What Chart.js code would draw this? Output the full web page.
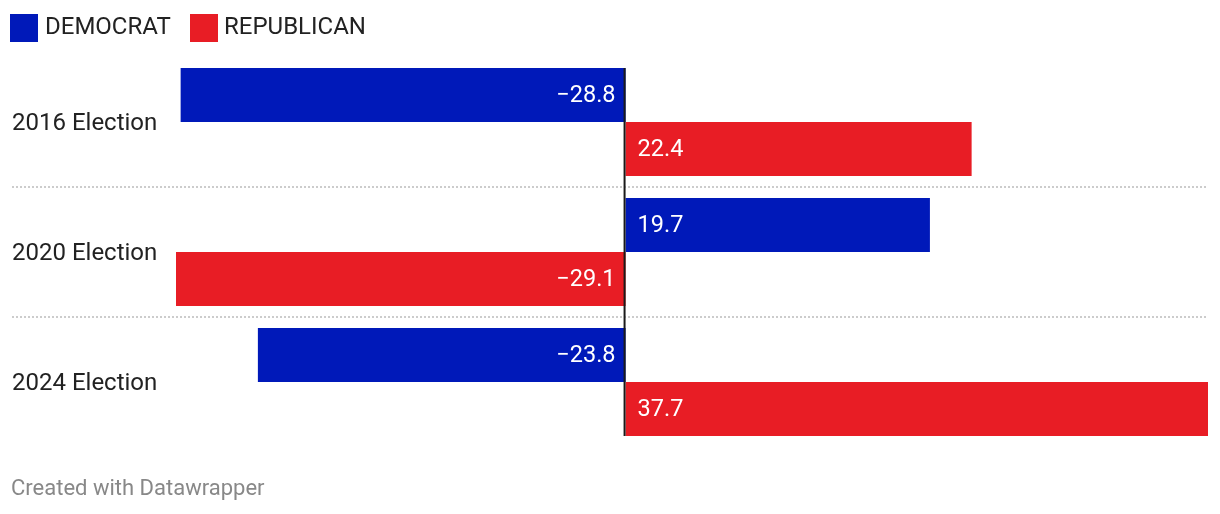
<!DOCTYPE html>
<html>
<head>
<meta charset="utf-8">
<script src="https://cdn.jsdelivr.net/npm/chart.js@4/dist/chart.umd.min.js"></script>
<style>
  html, body { margin: 0; padding: 0; background: #fff; }
  #wrap { width: 1220px; height: 514px; position: relative; }
</style>
</head>
<body>
<div id="wrap"><canvas id="mycanvas"></canvas></div>
<script>
// data
const elections = ["2016 Election", "2020 Election", "2024 Election"];
const democrat = [-28.8, 19.7, -23.8];
const republican = [22.4, -29.1, 37.7];
const seriesNames = ["DEMOCRAT", "REPUBLICAN"];
const colors = ["#0019b9", "#e81d25"];

function fmt(v) {
    var s = Math.abs(v).toFixed(1);
    return v < 0 ? "\u2212" + s : s;
}

// legend, labels, separators, zero line, credit
const extras = {
    id: "extras",
    afterDatasetsDraw(chart) {
        const ctx = chart.ctx;
        const x = chart.scales.x, y = chart.scales.y;
        ctx.save();

        // dotted separators between groups
        ctx.strokeStyle = "#cccccc";
        ctx.lineWidth = 2;
        ctx.setLineDash([2, 2]);
        for (let i = 0; i < elections.length - 1; i++) {
            const yy = Math.round((y.getPixelForValue(i) + y.getPixelForValue(i + 1)) / 2);
            ctx.beginPath();
            ctx.moveTo(12, yy);
            ctx.lineTo(1208, yy);
            ctx.stroke();
        }
        ctx.setLineDash([]);

        // category labels
        ctx.fillStyle = "#222";
        ctx.font = "24px Roboto";
        ctx.textAlign = "left";
        ctx.textBaseline = "middle";
        elections.forEach((e, i) => ctx.fillText(e, 12, y.getPixelForValue(i) + 2));

        // value labels inside bars
        ctx.fillStyle = "#fff";
        ctx.font = "23.5px Roboto";
        const zero = x.getPixelForValue(0);
        chart.data.datasets.forEach((ds, di) => {
            const meta = chart.getDatasetMeta(di);
            meta.data.forEach((bar, i) => {
                const v = ds.data[i];
                if (v < 0) {
                    ctx.textAlign = "right";
                    ctx.fillText(fmt(v), zero - 10, bar.y + 1);
                } else {
                    ctx.textAlign = "left";
                    ctx.fillText(fmt(v), zero + 12, bar.y + 1);
                }
            });
        });

        // zero line
        const first = chart.getDatasetMeta(0).data[0];
        const last = chart.getDatasetMeta(1).data[elections.length - 1];
        ctx.strokeStyle = "#1a1a1a";
        ctx.lineWidth = 2;
        ctx.beginPath();
        ctx.moveTo(zero - 1, first.y - first.height / 2);
        ctx.lineTo(zero - 1, last.y + last.height / 2);
        ctx.stroke();

        // legend
        ctx.font = "24px Roboto";
        ctx.textAlign = "left";
        ctx.fillStyle = colors[0];
        ctx.fillRect(10, 14, 28, 28);
        ctx.fillStyle = "#222";
        ctx.fillText(seriesNames[0], 45, 28);
        ctx.fillStyle = colors[1];
        ctx.fillRect(190, 14, 28, 28);
        ctx.fillStyle = "#222";
        ctx.fillText(seriesNames[1], 224, 28);

        // credit
        ctx.fillStyle = "#888";
        ctx.font = "22px Roboto";
        ctx.fillText("Created with Datawrapper", 11, 489);
        ctx.restore();
    }
};

const ctx = document.getElementById("mycanvas").getContext("2d");
new Chart(ctx, {
    type: "bar",
    data: {
        labels: elections,
        datasets: [
            { label: seriesNames[0], data: democrat, backgroundColor: colors[0] },
            { label: seriesNames[1], data: republican, backgroundColor: colors[1] }
        ]
    },
    options: {
        indexAxis: "y",
        responsive: true,
        maintainAspectRatio: false,
        animation: false,
        categoryPercentage: 108 / 130,
        barPercentage: 1,
        layout: { padding: { left: 176, right: 12, top: 57, bottom: 67 } },
        scales: {
            x: { min: -29.1, max: 37.7, display: false },
            y: { display: false }
        },
        plugins: { legend: { display: false }, tooltip: { enabled: false } }
    },
    plugins: [extras]
});
</script>
</body>
</html>
